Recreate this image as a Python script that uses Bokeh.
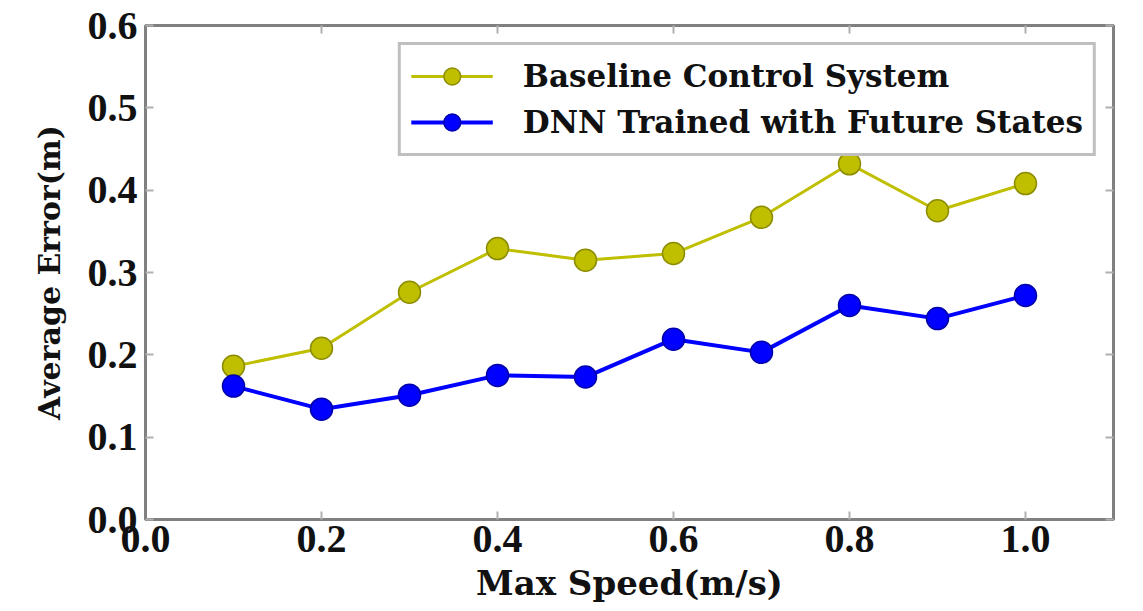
from bokeh.plotting import figure
from bokeh.models import Range1d, LinearAxis, FixedTicker, PrintfTickFormatter, Legend, LegendItem
from bokeh.embed import file_html
from bokeh.resources import INLINE

speed = [0.1, 0.2, 0.3, 0.4, 0.5, 0.6, 0.7, 0.8, 0.9, 1.0]
baseline = [0.186, 0.208, 0.276, 0.329, 0.315, 0.323, 0.367, 0.432, 0.375, 0.408]
dnn = [0.162, 0.134, 0.151, 0.175, 0.173, 0.219, 0.203, 0.260, 0.244, 0.272]
x_ticks = [0.0, 0.2, 0.4, 0.6, 0.8, 1.0]
y_ticks = [0.0, 0.1, 0.2, 0.3, 0.4, 0.5, 0.6]
labels = ["Baseline Control System", "DNN Trained with Future States"]

TICK_FONT = "Liberation Serif"
LABEL_FONT = "DejaVu Serif"
GRAY = "#808080"

p = figure(width=1143, height=611, output_backend="svg", toolbar_location=None,
           x_range=Range1d(0, 1.1), y_range=Range1d(0, 0.6),
           min_border_left=145, min_border_right=30, min_border_top=25, min_border_bottom=92,
           background_fill_color="white", border_fill_color="white")
p.xgrid.visible = False
p.ygrid.visible = False
p.outline_line_color = GRAY
p.outline_line_width = 3

def style_axis(ax, ticks, show_labels):
    ax.ticker = FixedTicker(ticks=ticks)
    ax.formatter = PrintfTickFormatter(format="%.1f")
    ax.axis_line_color = GRAY
    ax.axis_line_width = 3
    ax.major_tick_in = 8
    ax.major_tick_out = 0
    ax.major_tick_line_color = "#b0b0b0"
    ax.major_tick_line_width = 2
    ax.minor_tick_line_color = None
    ax.major_label_text_font = TICK_FONT
    ax.major_label_text_font_style = "bold"
    if show_labels:
        ax.major_label_text_color = "#111111"
        ax.major_label_text_font_size = "40px"
    else:
        ax.major_label_text_color = None
        ax.major_label_text_font_size = "1px"
        ax.major_label_standoff = 0

bottom = p.below[0]
left = p.left[0]
style_axis(bottom, x_ticks, True)
style_axis(left, y_ticks, True)
bottom.major_label_standoff = 6
left.major_label_standoff = 8

top = LinearAxis()
right = LinearAxis()
style_axis(top, x_ticks, False)
style_axis(right, y_ticks, False)
p.add_layout(top, "above")
p.add_layout(right, "right")

bottom.axis_label = "Max Speed(m/s)"
left.axis_label = "Average Error(m)"
for ax in (bottom, left):
    ax.axis_label_text_font = LABEL_FONT
    ax.axis_label_text_font_style = "bold"
    ax.axis_label_text_color = "#111111"
bottom.axis_label_text_font_size = "34px"
left.axis_label_text_font_size = "30px"
bottom.axis_label_standoff = 8
left.axis_label_standoff = 18

l1 = p.line(speed, baseline, line_color="#bfbf00", line_width=3)
s1 = p.scatter(speed, baseline, size=22, fill_color="#bfbf00", line_color="#8c8c00", line_width=1.5)
l2 = p.line(speed, dnn, line_color="#0000ff", line_width=4)
s2 = p.scatter(speed, dnn, size=22, fill_color="#0000ff", line_color="#0000aa", line_width=1.5)

legend = Legend(items=[LegendItem(label=labels[0], renderers=[l1, s1]),
                       LegendItem(label=labels[1], renderers=[l2, s2])],
                location="top_right")
legend.margin = 17
legend.padding = 10
legend.spacing = 4
legend.glyph_width = 82
legend.glyph_height = 42
legend.label_height = 36
legend.label_standoff = 30
legend.label_text_font = LABEL_FONT
legend.label_text_font_style = "bold"
legend.label_text_font_size = "31px"
legend.label_text_color = "#111111"
legend.border_line_color = GRAY
legend.border_line_width = 3
legend.background_fill_color = "white"
legend.background_fill_alpha = 1.0
p.add_layout(legend, "center")

open("out.html", "w").write(file_html(p, INLINE))
